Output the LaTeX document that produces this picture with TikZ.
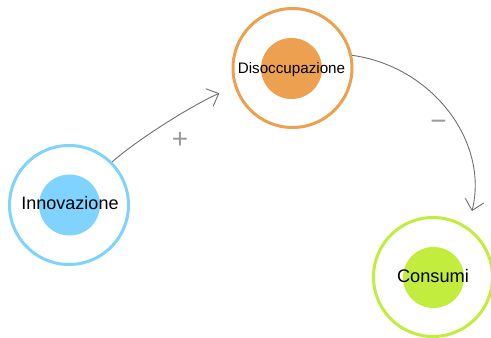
\documentclass[tikz,border=0pt]{standalone}
\usepackage{fontspec}
\setmainfont{Liberation Sans}
\usetikzlibrary{arrows.meta}
\definecolor{cblue}{HTML}{80D2FF}
\definecolor{corange}{HTML}{ECA050}
\definecolor{cgreen}{HTML}{C2EC3E}
\definecolor{cline}{HTML}{707070}
\definecolor{csign}{HTML}{9A9A9A}
\tikzset{
  ring/.style={circle, draw=#1, line width=3pt, minimum size=119pt, inner sep=0pt, fill=white},
  core/.style={circle, fill=#1, minimum size=61pt, inner sep=0pt},
  txt/.style={inner sep=0pt, text=black},
  link/.style={draw=cline, line width=0.9pt, -{Straight Barb[length=10pt,width=19pt,line width=0.9pt]}},
  sign/.style={text=csign, inner sep=0pt, font=\fontsize{28}{30}\selectfont}
}
\begin{document}
\begin{tikzpicture}[x=1pt,y=1pt]
\clip (0,0) rectangle (491,338);
\fill[white] (0,0) rectangle (491,338);
% nodes
\node[ring=cblue] (inn) at (69,133) {};
\node[core=cblue] (innc) at (69.5,133) {};
\node[txt, anchor=base, font=\fontsize{18}{20}\selectfont] (innt) at (70,128) {Innovazione};

\node[ring=corange] (dis) at (292.5,270) {};
\node[core=corange] (disc) at (291.5,269.5) {};
\node[txt, anchor=base, font=\fontsize{15.2}{17}\selectfont] (dist) at (291.5,264) {Disoccupazione};

\node[ring=cgreen] (con) at (433,61) {};
\node[core=cgreen] (conc) at (433.5,60.5) {};
\node[txt, anchor=base, font=\fontsize{18.2}{20}\selectfont] (cont) at (433,56) {Consumi};

% connectors
\draw[link, shorten >=16.5pt] (inn.45) .. controls +(41:40) and +(203:40) .. (dis.198);
\draw[link, shorten >=16.5pt] (dis.12) .. controls +(-8:82) and +(76:87) .. (con.55.5);

% signs
\node[sign] (plus) at (180,197.5) {+};
\node[sign] (minus) at (438.5,213) {−};
\end{tikzpicture}
\end{document}
